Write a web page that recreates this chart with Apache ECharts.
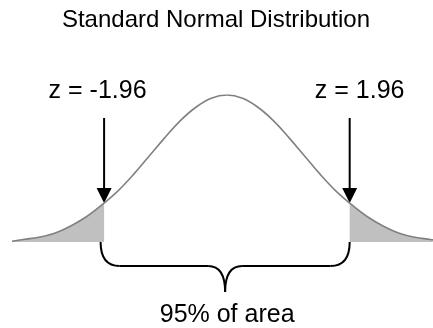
<!DOCTYPE html>
<html>
<head>
<meta charset="utf-8">
<script src="https://cdn.jsdelivr.net/npm/echarts@6/dist/echarts.min.js"></script>
<style>
  html, body { margin: 0; padding: 0; background: #fff; }
  #main { width: 433px; height: 328px; }
</style>
</head>
<body>
<div id="main"></div>
<script>
// points (z, height)
var zValues = [-3.43, -3.25, -3.0, -2.75, -2.5, -2.25, -1.96, -1.75, -1.5, -1.25, -1.0, -0.75, -0.5, -0.25, 0,
               0.25, 0.5, 0.75, 1.0, 1.25, 1.5, 1.75, 1.96, 2.25, 2.5, 2.75, 3.0, 3.25, 3.43];
var density = [0.002, 0.007, 0.013, 0.024, 0.043, 0.068, 0.106, 0.137, 0.182, 0.232, 0.282, 0.329, 0.366, 0.391, 0.400,
               0.391, 0.366, 0.329, 0.282, 0.232, 0.182, 0.137, 0.106, 0.068, 0.043, 0.024, 0.013, 0.007, 0.002];
var cutoffs = [-1.96, 1.96];
var cutoffLabels = ['z = -1.96', 'z = 1.96'];
var titleText = 'Standard Normal Distribution';
var areaText = '95% of area';

var FONT = '"Liberation Sans", Arial, sans-serif';
var curve = zValues.map(function (z, i) { return [z, density[i]]; });
var leftTail = curve.filter(function (p) { return p[0] <= cutoffs[0]; });
var rightTail = curve.filter(function (p) { return p[0] >= cutoffs[1]; });

var chart = echarts.init(document.getElementById('main'));

function tailSeries(data) {
  return {
    type: 'line',
    data: data,
    smooth: 0.4,
    symbol: 'none',
    silent: true,
    animation: false,
    lineStyle: { width: 0, opacity: 0 },
    areaStyle: { color: '#c0c0c0', opacity: 1 }
  };
}

chart.setOption({
  animation: false,
  grid: { left: 12, right: 0, top: 95, bottom: 86 },
  xAxis: { type: 'value', min: -3.43, max: 3.29, show: false },
  yAxis: { type: 'value', min: 0, max: 0.4, show: false },
  series: [
    tailSeries(leftTail),
    tailSeries(rightTail),
    {
      type: 'line',
      data: curve,
      smooth: 0.4,
      symbol: 'none',
      silent: true,
      animation: false,
      lineStyle: { color: '#808080', width: 1.6 }
    }
  ]
});

function txt(text, x, y, size) {
  return {
    type: 'text',
    silent: true,
    style: {
      text: text, x: x, y: y,
      font: 'normal ' + size + 'px ' + FONT,
      fill: '#000',
      align: 'center', verticalAlign: 'middle',
      textAlign: 'center', textVerticalAlign: 'middle'
    }
  };
}

function seg(x1, y1, x2, y2) {
  return {
    type: 'line', silent: true,
    shape: { x1: x1, y1: y1, x2: x2, y2: y2 },
    style: { stroke: '#000', lineWidth: 2 }
  };
}

function curl(x1, y1, c1x, c1y, c2x, c2y, x2, y2) {
  return {
    type: 'bezierCurve', silent: true,
    shape: { x1: x1, y1: y1, cpx1: c1x, cpy1: c1y, cpx2: c2x, cpy2: c2y, x2: x2, y2: y2 },
    style: { stroke: '#000', lineWidth: 2, fill: null }
  };
}

var graphics = [];
var tipXs = [];
var labelShift = [-6.5, 10];
cutoffs.forEach(function (c, i) {
  var idx = zValues.indexOf(c);
  var tip = chart.convertToPixel({ gridIndex: 0 }, [c, density[idx]]);
  tipXs.push(tip[0]);
  graphics.push(seg(tip[0], 118, tip[0], tip[1] - 12));
  graphics.push({
    type: 'polygon', silent: true,
    shape: { points: [[tip[0] - 7.5, tip[1] - 15], [tip[0] + 7.5, tip[1] - 15], [tip[0], tip[1]]] },
    style: { fill: '#000' }
  });
  graphics.push(txt(cutoffLabels[i], tip[0] + labelShift[i], 91, 25));
});

// brace under the central 95%
var base = chart.convertToPixel({ gridIndex: 0 }, [0, 0])[1];
var xL = tipXs[0] - 3.5, xR = tipXs[1], xm = (xL + xR) / 2;
var y0 = base, y1 = base + 24, y2 = base + 50;
graphics.push(curl(xL, y0, xL, y1 - 8, xL + 6, y1, xL + 19, y1));
graphics.push(seg(xL + 19, y1, xm - 17, y1));
graphics.push(curl(xm - 17, y1, xm - 6, y1, xm, y1 + 8, xm, y2));
graphics.push(curl(xm, y2, xm, y1 + 8, xm + 6, y1, xm + 17, y1));
graphics.push(seg(xm + 17, y1, xR - 19, y1));
graphics.push(curl(xR - 19, y1, xR - 6, y1, xR, y1 - 8, xR, y0));

graphics.push(txt(titleText, 216, 20, 24));
graphics.push(txt(areaText, xm + 2, 315, 25));

chart.setOption({ graphic: graphics });
</script>
</body>
</html>
